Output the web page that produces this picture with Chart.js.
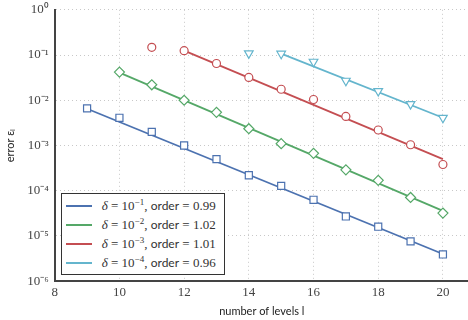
<!DOCTYPE html>
<html>
<head>
<meta charset="utf-8">
<script src="https://cdn.jsdelivr.net/npm/chart.js@4"></script>
<style>
  body { margin: 0; background: #fff; }
  #wrap { position: relative; width: 468px; height: 320px; overflow: hidden; }
  #chart { position: absolute; left: 0; top: -4px; }
  #legend {
    position: absolute; background: #fff; border: 1.3px solid #333;
    padding: 2px 8px 2px 4px; color: #333;
  }
  #legend .row { display: flex; align-items: center; height: 19px; }
  #legend .swatch { width: 26px; height: 0; border-top: 2px solid; margin-right: 10px; }
  #legend .m { font-family: "Liberation Serif", serif; font-size: 13px; }
  #legend .s { font-family: Lato, sans-serif; font-size: 12px; }
  #legend sup { font-size: 9px; }
</style>
</head>
<body>
<div id="wrap">
  <canvas id="chart" width="475" height="324"></canvas>
  <div id="legend"></div>
</div>
<script>
// measured error per level, one series per delta
const blueLevels = [9, 10, 11, 12, 13, 14, 15, 16, 17, 18, 19, 20];
const blueErr = [6.6e-3, 4.1e-3, 2.0e-3, 1.0e-3, 5.0e-4, 2.2e-4, 1.28e-4, 6.3e-5, 2.7e-5, 1.6e-5, 7.6e-6, 3.9e-6];
const greenLevels = [10, 11, 12, 13, 14, 15, 16, 17, 18, 19, 20];
const greenErr = [4.2e-2, 2.2e-2, 1.0e-2, 5.4e-3, 2.35e-3, 1.1e-3, 6.7e-4, 2.9e-4, 1.7e-4, 7.1e-5, 3.2e-5];
const redLevels = [11, 12, 13, 14, 15, 16, 17, 18, 19, 20];
const redErr = [0.148, 0.125, 6.5e-2, 3.2e-2, 1.75e-2, 1.04e-2, 4.4e-3, 2.2e-3, 1.04e-3, 3.8e-4];
const cyanLevels = [14, 15, 16, 17, 18, 19, 20];
const cyanErr = [0.109, 0.107, 7.1e-2, 2.7e-2, 1.6e-2, 8.2e-3, 4.1e-3];

// fitted lines (end points)
const blueFitLevels = [9, 20];
const blueFit = [6.5e-3, 4.0e-6];
const greenFitLevels = [10, 20];
const greenFit = [4.1e-2, 3.6e-5];
const redFitLevels = [12, 20];
const redFit = [0.125, 5.0e-4];
const cyanFitLevels = [15, 20];
const cyanFit = [0.107, 4.1e-3];

const deltaExps = ['−1', '−2', '−3', '−4'];
const orders = ['0.99', '1.02', '1.01', '0.96'];

const xTicks = [8, 10, 12, 14, 16, 18, 20];
const yTicks = [1e-6, 1e-5, 1e-4, 1e-3, 1e-2, 1e-1, 1];
const yTickLabels = ['10⁻⁶', '10⁻⁵', '10⁻⁴', '10⁻³', '10⁻²', '10⁻¹', '10⁰'];

const colors = ['#4C72B0', '#55A868', '#C44E52', '#64B5CD'];
const markers = ['rect', 'rectRot', 'circle', 'triangle'];
const markerSize = [5, 5, 4, 5];

const pts = (xs, ys) => xs.map((x, i) => ({ x: x, y: ys[i] }));

const series = [
  [blueLevels, blueErr, blueFitLevels, blueFit],
  [greenLevels, greenErr, greenFitLevels, greenFit],
  [redLevels, redErr, redFitLevels, redFit],
  [cyanLevels, cyanErr, cyanFitLevels, cyanFit]
];

const datasets = [];
series.forEach((s, i) => {
  datasets.push({
    label: 'fit' + i,
    data: pts(s[2], s[3]),
    borderColor: colors[i],
    borderWidth: 1.8,
    pointRadius: 0,
    showLine: true,
    order: 2
  });
  datasets.push({
    label: 'data' + i,
    data: pts(s[0], s[1]),
    showLine: false,
    pointStyle: markers[i],
    pointRadius: markerSize[i],
    pointRotation: markers[i] === 'triangle' ? 180 : 0,
    pointBorderColor: colors[i],
    pointBackgroundColor: '#fff',
    pointBorderWidth: 1.2,
    order: 1
  });
});

// in v4 border.dash dashes the grid lines, the axis line itself stays solid
const gridStyle = { color: '#c8c8c8', lineWidth: 1, drawTicks: false };
const borderStyle = { display: true, color: '#444', width: 2, dash: [1, 3] };

const chart = new Chart(document.getElementById('chart'), {
  type: 'scatter',
  data: { datasets: datasets },
  options: {
    responsive: false,
    animation: false,
    devicePixelRatio: 1,
    layout: { padding: { top: 0, right: 0, left: 4, bottom: 0 } },
    plugins: { legend: { display: false }, tooltip: { enabled: false } },
    scales: {
      x: {
        type: 'linear', min: 8, max: 20.8,
        afterBuildTicks: sc => { sc.ticks = xTicks.map(v => ({ value: v })); },
        grid: gridStyle,
        border: borderStyle,
        ticks: {
          color: '#444', padding: 4,
          font: { family: 'Liberation Serif', size: 13 },
          maxRotation: 0
        },
        title: {
          display: true, text: 'number of levels l', color: '#222',
          font: { family: 'Lato', size: 11 }, padding: { top: 0, bottom: 2 }
        }
      },
      y: {
        type: 'logarithmic', min: 1e-6, max: 1,
        afterBuildTicks: sc => { sc.ticks = yTicks.map(v => ({ value: v })); },
        grid: gridStyle,
        border: borderStyle,
        ticks: {
          color: '#444', padding: 6,
          font: { family: 'Liberation Serif', size: 13 },
          callback: v => yTickLabels[yTicks.indexOf(v)] || ''
        },
        title: {
          display: true, text: 'error εₗ', color: '#222',
          font: { family: 'Lato', size: 11 }, padding: { top: 0, bottom: 4 }
        }
      }
    }
  }
});

// legend box inside the plot, lower left (canvas sits 4px above the page top)
const area = chart.chartArea;
const legend = document.getElementById('legend');
legend.innerHTML = deltaExps.map((e, i) =>
  '<div class="row"><span class="swatch" style="border-color:' + colors[i] + '"></span>' +
  '<span class="m"><i>δ</i> = 10<sup>' + e + '</sup>,&nbsp;</span>' +
  '<span class="s">order</span><span class="m">&nbsp;= ' + orders[i] + '</span></div>'
).join('');
legend.style.left = (area.left + 6) + 'px';
legend.style.top = (area.bottom - 4 - 6 - legend.offsetHeight) + 'px';
</script>
</body>
</html>
